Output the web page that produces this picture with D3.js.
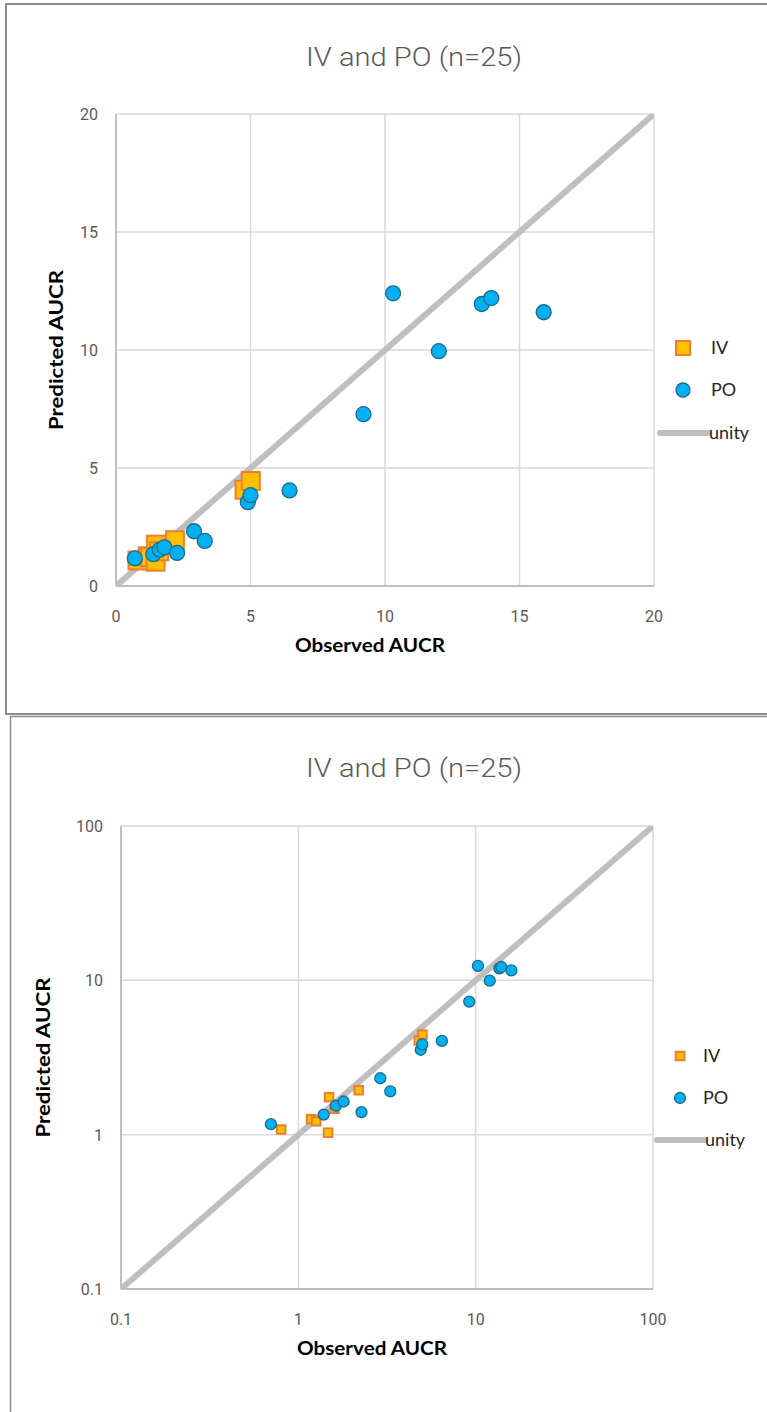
<!DOCTYPE html>
<html>
<head>
<meta charset="utf-8">
<script src="https://cdn.jsdelivr.net/npm/d3@7/dist/d3.min.js"></script>
<style>
  html, body { margin: 0; padding: 0; background: #fff; }
  svg { display: block; }
</style>
</head>
<body>
<svg id="chart" width="767" height="1412"></svg>
<script>
// Observed vs predicted AUCR, IV and PO administrations
const ivObserved  = [0.80, 1.18, 1.26, 1.47, 1.49, 1.60, 2.19, 4.78, 5.01];
const ivPredicted = [1.08, 1.26, 1.22, 1.03, 1.75, 1.47, 1.94, 4.08, 4.45];
const poObserved  = [0.70, 1.39, 1.63, 1.80, 2.27, 2.90, 3.30, 4.90, 5.00, 6.45, 9.20, 10.30, 12.00, 13.60, 13.95, 15.90];
const poPredicted = [1.17, 1.35, 1.54, 1.64, 1.40, 2.32, 1.91, 3.55, 3.85, 4.05, 7.28, 12.40, 9.95, 11.95, 12.20, 11.60];
const linearTicks = [0, 5, 10, 15, 20];
const logTicks = [0.1, 1, 10, 100];
const chartTitle = "IV and PO (n=25)";
const xTitle = "Observed AUCR";
const yTitle = "Predicted AUCR";
const legendLabels = ["IV", "PO", "unity"];

const ivPoints = ivObserved.map((o, i) => ({ obs: o, pred: ivPredicted[i] }));
const poPoints = poObserved.map((o, i) => ({ obs: o, pred: poPredicted[i] }));

const svg = d3.select("#chart");
const narrow = "Roboto, 'Liberation Sans', sans-serif";
const bodyFont = "Lato, 'Open Sans', sans-serif";

// outer frames of the two chart objects
svg.append("rect").attr("x", 6).attr("y", 4).attr("width", 780).attr("height", 710)
  .attr("fill", "#fff").attr("stroke", "#8c8c8c").attr("stroke-width", 2);
svg.append("rect").attr("x", 10.5).attr("y", 716.5).attr("width", 780).attr("height", 720)
  .attr("fill", "#fff").attr("stroke", "#8c8c8c").attr("stroke-width", 1.5);

function drawChart(cfg) {
  const g = svg.append("g");
  const x = cfg.xScale, y = cfg.yScale;
  const [x0, x1] = x.range(), [y0, y1] = y.range();

  g.append("text").attr("x", 414).attr("y", cfg.titleY)
    .attr("text-anchor", "middle").attr("font-family", narrow).attr("font-weight", 300)
    .attr("font-size", 26).attr("fill", "#595959")
    .attr("textLength", 216).attr("lengthAdjust", "spacingAndGlyphs").text(chartTitle);

  // gridlines
  g.append("g").selectAll("line.v").data(cfg.ticks).join("line")
    .attr("x1", d => x(d)).attr("x2", d => x(d)).attr("y1", y1).attr("y2", y0)
    .attr("stroke", "#d9d9d9").attr("stroke-width", 1.5);
  g.append("g").selectAll("line.h").data(cfg.ticks).join("line")
    .attr("x1", x0).attr("x2", x1).attr("y1", d => y(d)).attr("y2", d => y(d))
    .attr("stroke", "#d9d9d9").attr("stroke-width", 1.5);
  // axis lines
  g.append("line").attr("x1", x0).attr("x2", x1).attr("y1", y0).attr("y2", y0)
    .attr("stroke", "#bfbfbf").attr("stroke-width", 2);
  g.append("line").attr("x1", x0).attr("x2", x0).attr("y1", y0).attr("y2", y1)
    .attr("stroke", "#bfbfbf").attr("stroke-width", 2);

  // tick labels
  g.append("g").selectAll("text").data(cfg.ticks).join("text")
    .attr("x", d => x(d)).attr("y", y0 + 36).attr("text-anchor", "middle")
    .attr("font-family", narrow).attr("font-size", 16).attr("fill", "#595959")
    .text(d => cfg.fmt(d));
  g.append("g").selectAll("text").data(cfg.ticks).join("text")
    .attr("x", x0 - 18).attr("y", d => y(d) + 6).attr("text-anchor", "end")
    .attr("font-family", narrow).attr("font-size", 16).attr("fill", "#595959")
    .text(d => cfg.fmt(d));

  // axis titles
  g.append("text").attr("x", (x0 + x1) / 2 - 15).attr("y", y0 + 66)
    .attr("text-anchor", "middle").attr("font-family", bodyFont).attr("font-weight", "bold")
    .attr("font-size", 19).attr("fill", "#000")
    .attr("textLength", 150).attr("lengthAdjust", "spacingAndGlyphs").text(xTitle);
  g.append("text")
    .attr("transform", `translate(${cfg.yTitleX},${(y0 + y1) / 2}) rotate(-90)`)
    .attr("text-anchor", "middle").attr("font-family", bodyFont).attr("font-weight", "bold")
    .attr("font-size", 19).attr("fill", "#000")
    .attr("textLength", 160).attr("lengthAdjust", "spacingAndGlyphs").text(yTitle);

  // unity line, clipped to the plot area
  const clipId = "clip" + cfg.id;
  g.append("clipPath").attr("id", clipId).append("rect")
    .attr("x", x0).attr("y", y1).attr("width", x1 - x0).attr("height", y0 - y1);
  const dom = x.domain();
  g.append("line").attr("clip-path", `url(#${clipId})`)
    .attr("x1", x(dom[0])).attr("y1", y(dom[0])).attr("x2", x(dom[1])).attr("y2", y(dom[1]))
    .attr("stroke", "#bfbfbf").attr("stroke-width", 6);

  // IV squares
  const s = cfg.sq;
  g.append("g").selectAll("rect").data(ivPoints).join("rect")
    .attr("x", d => x(d.obs) - s / 2).attr("y", d => y(d.pred) - s / 2)
    .attr("width", s).attr("height", s)
    .attr("fill", "#ffc000").attr("stroke", "#ed7d31").attr("stroke-width", cfg.sqStroke);
  // PO circles
  g.append("g").selectAll("circle").data(poPoints).join("circle")
    .attr("cx", d => x(d.obs)).attr("cy", d => y(d.pred)).attr("r", cfg.r)
    .attr("fill", "#00b0f0").attr("stroke", "#1f6a8a").attr("stroke-width", 1.3);

  // legend
  const L = cfg.legend;
  g.append("rect").attr("x", L.mx - L.sq / 2).attr("y", L.y[0] - L.sq / 2)
    .attr("width", L.sq).attr("height", L.sq)
    .attr("fill", "#ffc000").attr("stroke", "#ed7d31").attr("stroke-width", cfg.sqStroke);
  g.append("circle").attr("cx", L.mx).attr("cy", L.y[1]).attr("r", L.r)
    .attr("fill", "#00b0f0").attr("stroke", "#1f6a8a").attr("stroke-width", 1.3);
  g.append("line").attr("x1", L.lx[0]).attr("x2", L.lx[1]).attr("y1", L.y[2]).attr("y2", L.y[2])
    .attr("stroke", "#bfbfbf").attr("stroke-width", 6).attr("stroke-linecap", "round");
  g.append("g").selectAll("text").data(legendLabels).join("text")
    .attr("x", (d, i) => i === 2 ? L.lx[1] + 1 : L.tx).attr("y", (d, i) => L.y[i] + 6)
    .attr("font-family", bodyFont).attr("font-size", 18).attr("fill", "#262626")
    .text(d => d);
}

drawChart({
  id: "lin",
  xScale: d3.scaleLinear().domain([0, 20]).range([116, 654]),
  yScale: d3.scaleLinear().domain([0, 20]).range([586, 114]),
  ticks: linearTicks,
  fmt: d => String(d),
  titleY: 66,
  yTitleX: 63,
  sq: 18, sqStroke: 2, r: 7.5,
  legend: { mx: 683, tx: 711, lx: [660, 708], y: [348, 390, 433], sq: 14, r: 7 }
});

drawChart({
  id: "log",
  xScale: d3.scaleLog().domain([0.1, 100]).range([121, 653]),
  yScale: d3.scaleLog().domain([0.1, 100]).range([1289, 826]),
  ticks: logTicks,
  fmt: d => String(d),
  titleY: 777,
  yTitleX: 50,
  sq: 8.5, sqStroke: 2, r: 5.5,
  legend: { mx: 680, tx: 703, lx: [657, 704], y: [1056, 1098, 1140], sq: 8.5, r: 5.5 }
});
</script>
</body>
</html>
